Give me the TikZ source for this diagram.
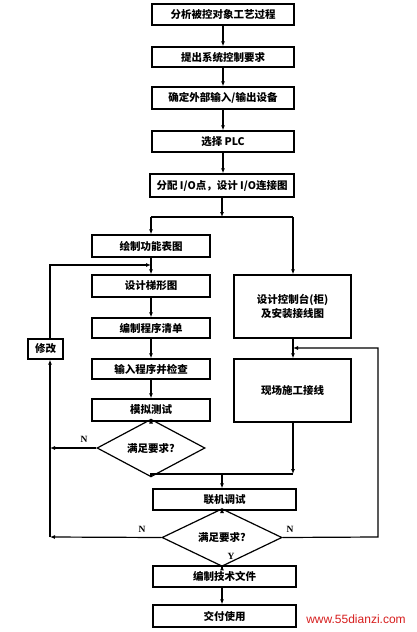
\documentclass[tikz,border=0pt]{standalone}
\usepackage{fontspec}
\setmainfont{Liberation Serif}
\newfontfamily\cjk{Noto Sans CJK SC}
\usetikzlibrary{arrows.meta,shapes.geometric}
\begin{document}
\begin{tikzpicture}[x=1pt,y=-1pt,
 box/.style={draw,line width=1.3pt,font=\cjk\bfseries\fontsize{10.5}{14}\selectfont,inner sep=0pt,align=center},
 dia/.style={draw,diamond,line width=1.2pt,inner sep=0pt,font=\cjk\bfseries\fontsize{10.5}{12}\selectfont},
 ln/.style={line width=1.2pt},
 arr/.style={ln,-{Latex[length=5pt,width=4pt]}},
 lab/.style={font=\bfseries\fontsize{9.5}{10}\selectfont}]
\useasboundingbox[fill=white] (0,0) rectangle (416,632);
% main chain
\node[box,minimum width=142,minimum height=21] (b1) at (223,14.5) {分析被控对象工艺过程};
\node[box,minimum width=142,minimum height=20] (b2) at (223,57) {提出系统控制要求};
\node[box,minimum width=142,minimum height=22] (b3) at (223,98) {确定外部输入/输出设备};
\node[box,minimum width=142,minimum height=21] (b4) at (223,141.5) {选择 PLC};
\node[box,minimum width=144,minimum height=23] (b5) at (222,185.5) {分配 I/O点，设计 I/O连接图};
% left column
\node[box,minimum width=118,minimum height=22] (f1) at (151,246) {绘制功能表图};
\node[box,minimum width=118,minimum height=22] (f2) at (151,286) {设计梯形图};
\node[box,minimum width=118,minimum height=20] (f3) at (151,328) {编制程序清单};
\node[box,minimum width=118,minimum height=20] (f4) at (151,369) {输入程序并检查};
\node[box,minimum width=118,minimum height=22] (f5) at (151,410) {模拟测试};
\node[dia,minimum width=108,minimum height=30] (d1) at (151,448) {满足要求?};
\node[box,minimum width=35,minimum height=20] (m) at (45.5,349) {修改};
% right column
\node[box,minimum width=117,minimum height=63] (r1) at (292.5,306.5) {设计控制台(柜)\\及安装接线图};
\node[box,minimum width=117,minimum height=63] (r2) at (292.5,390.5) {现场施工接线};
% bottom
\node[box,minimum width=143,minimum height=21] (j) at (224.5,499.5) {联机调试};
\node[dia,minimum width=120,minimum height=29] (d2) at (222,537.5) {满足要求?};
\node[box,minimum width=143,minimum height=21] (t1) at (224.5,576.5) {编制技术文件};
\node[box,minimum width=143,minimum height=22] (t2) at (224.5,616) {交付使用};
% junction coordinates
\coordinate (s1) at (222,217);
\coordinate (s1l) at (151,217);
\coordinate (s1r) at (293,217);
\coordinate (s2) at (151,474);
\coordinate (s2r) at (293,474);
\coordinate (s2m) at (222,474);
\coordinate (lp) at (50,265);
\coordinate (lpin) at (151,265);
\coordinate (lb) at (50,537);
\coordinate (ln1) at (50,448);
\coordinate (rr) at (378,537);
\coordinate (rin) at (293,348);
% connectors
\draw[arr] (b1) -- (b2);
\draw[arr] (b2) -- (b3);
\draw[arr] (b3) -- (b4);
\draw[arr] (b4.south) -- (b4.south |- b5.north);
\draw[arr] (b5.south -| s1) -- (s1);
\draw[ln] (s1l) -- (s1r);
\draw[arr] (s1l) -- (f1.north);
\draw[arr] (s1r) -- (r1.north -| s1r);
\draw[arr] (f1) -- (f2);
\draw[arr] (f2) -- (f3);
\draw[arr] (f3) -- (f4);
\draw[arr] (f4) -- (f5);
\draw[arr] (f5) -- (d1);
\draw[arr] (m.north -| lp) -- (lp) -- (lpin);
\draw[arr] (d1.west) -- (ln1);
\draw[arr] (d2.west) -- (lb);
\draw[arr] (lb) -- (m.south -| lb);
\draw[ln] (d1.south) -- (s2) -- (s2r);
\draw[arr] (r2.south -| s2r) -- (s2r);
\draw[arr] (s2m) -- (j.north -| s2m);
\draw[arr] (r1.south -| rin) -- (r2.north -| rin);
\draw[arr] (d2.east) -- (rr) |- (rin);
\draw[arr] (j.south -| d2.north) -- (d2.north);
\draw[arr] (d2.south) -- (t1.north -| d2.south);
\draw[arr] (t1.south -| d2.south) -- (t2.north -| d2.south);
% labels
\node[lab] (n1) at (84,439) {N};
\node[lab] (n2) at (142,529) {N};
\node[lab] (n3) at (290,529) {N};
\node[lab] (y1) at (231,556) {Y};
\node[font=\fontspec{Liberation Sans}\fontsize{12}{14}\selectfont,text={rgb,255:red,215;green,30;blue,30}] (wm) at (356,619) {www.55dianzi.com};
\end{tikzpicture}
\end{document}
